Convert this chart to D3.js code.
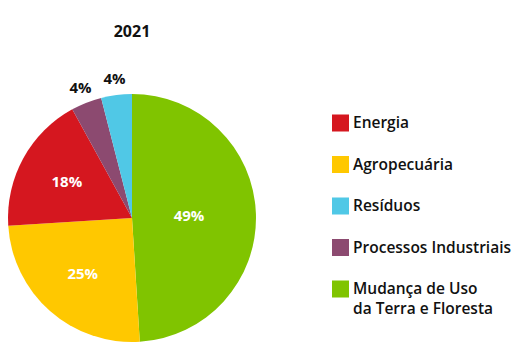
<!DOCTYPE html>
<html>
<head>
<meta charset="utf-8">
<script src="https://cdn.jsdelivr.net/npm/d3@7"></script>
<style>
  body { margin: 0; background: #fff; }
  text { font-family: "Open Sans", sans-serif; }
</style>
</head>
<body>
<script>
var categories = ['Mudança de Uso da Terra e Floresta', 'Agropecuária', 'Energia', 'Processos Industriais', 'Resíduos']
var values = [49, 25, 18, 4, 4]
var colors = ['#80c400', '#ffc800', '#d5171f', '#8c4a70', '#50c8e6']
var legendOrder = ['Energia', 'Agropecuária', 'Resíduos', 'Processos Industriais', 'Mudança de Uso da Terra e Floresta']
var legendLines = {
  'Mudança de Uso da Terra e Floresta': ['Mudança de Uso', 'da Terra e Floresta']
}
var title = '2021'

var width = 519
var height = 359
var cx = 132
var cy = 218
var radius = 124

var svg = d3.select('body').append('svg')
  .attr('width', width)
  .attr('height', height)

var color = d3.scaleOrdinal().domain(categories).range(colors)

var data = categories.map(function (c, i) { return { name: c, value: values[i] } })

var pie = d3.pie()
  .sort(null)
  .value(function (d) { return d.value })

var arcs = pie(data)

var arc = d3.arc().innerRadius(0).outerRadius(radius)
var labelArc = d3.arc().innerRadius(radius * 0.6).outerRadius(radius * 0.6)
var bigArc = d3.arc().innerRadius(radius * 0.46).outerRadius(radius * 0.46)
var outerArc = d3.arc().innerRadius(radius + 16).outerRadius(radius + 16)

var g = svg.append('g')
  .attr('transform', 'translate(' + cx + ',' + cy + ')')

g.selectAll('path')
  .data(arcs)
  .enter().append('path')
  .attr('d', arc)
  .attr('fill', function (d) { return color(d.data.name) })

g.selectAll('text.val')
  .data(arcs)
  .enter().append('text')
  .attr('class', 'val')
  .attr('transform', function (d) {
    var v = d.data.value
    var p = v < 10 ? outerArc.centroid(d) : (v > 40 ? bigArc.centroid(d) : labelArc.centroid(d))
    return 'translate(' + p + ')'
  })
  .attr('text-anchor', 'middle')
  .attr('dy', '0.35em')
  .attr('font-size', 15)
  .attr('font-weight', 700)
  .attr('fill', function (d) { return d.data.value < 10 ? '#111' : '#fff' })
  .text(function (d) { return d.data.value + '%' })

svg.append('text')
  .attr('x', cx)
  .attr('y', 31)
  .attr('dy', '0.35em')
  .attr('text-anchor', 'middle')
  .attr('font-size', 16)
  .attr('font-weight', 700)
  .attr('fill', '#111')
  .text(title)

var legendY = d3.scalePoint()
  .domain(legendOrder)
  .range([123, 289])

var legend = svg.append('g')
  .selectAll('g')
  .data(legendOrder)
  .enter().append('g')
  .attr('transform', function (d) { return 'translate(332,' + legendY(d) + ')' })

legend.append('rect')
  .attr('x', 0)
  .attr('y', -8.5)
  .attr('width', 17)
  .attr('height', 17)
  .attr('fill', function (d) { return color(d) })

legend.append('text')
  .attr('x', 21)
  .attr('font-size', 15.5)
  .attr('font-weight', 600)
  .attr('fill', '#111')
  .selectAll('tspan')
  .data(function (d) { return legendLines[d] || [d] })
  .enter().append('tspan')
  .attr('x', 21)
  .attr('y', function (d, i) { return i * 20 })
  .attr('dy', '0.35em')
  .text(function (d) { return d })
</script>
</body>
</html>
